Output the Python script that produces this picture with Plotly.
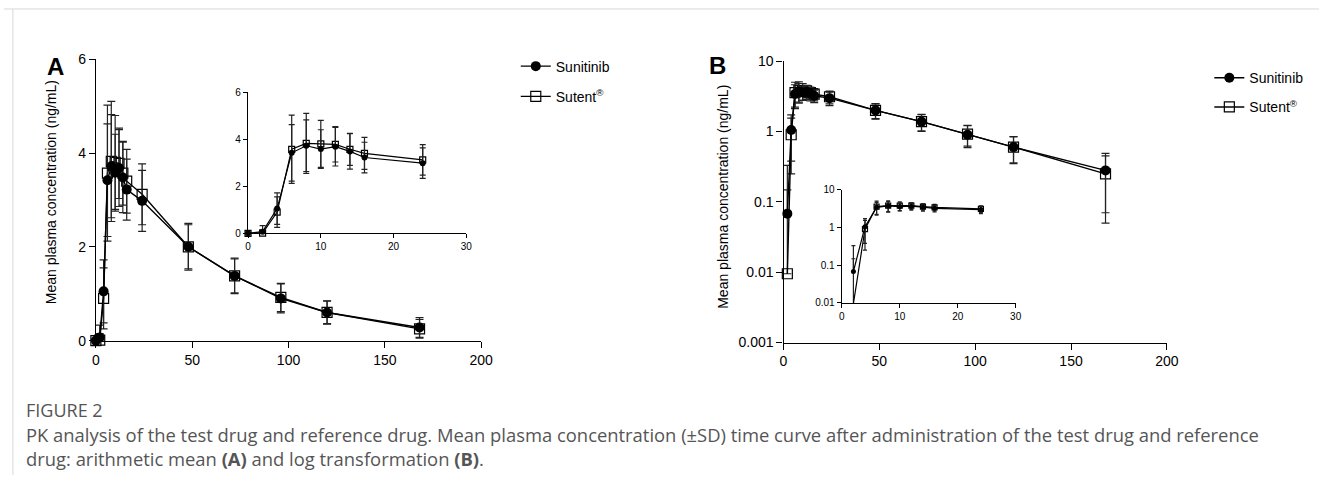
import plotly.graph_objects as go

# ---------------- data ----------------
time_h = [0, 2, 4, 6, 8, 10, 12, 14, 16, 24, 48, 72, 96, 120, 168]
sunitinib_mean = [0, 0.068, 1.05, 3.42, 3.72, 3.58, 3.68, 3.48, 3.22, 2.98, 2.00, 1.38, 0.90, 0.60, 0.28]
sunitinib_sd = [0, 0.08, 0.67, 1.20, 1.10, 0.82, 0.82, 0.75, 0.65, 0.65, 0.47, 0.36, 0.31, 0.24, 0.21]
sutent_mean = [0, 0.0095, 0.90, 3.57, 3.82, 3.80, 3.78, 3.57, 3.40, 3.12, 2.00, 1.38, 0.92, 0.60, 0.25]
sutent_sd = [0, 0.32, 0.65, 1.45, 1.28, 1.00, 0.75, 0.68, 0.68, 0.65, 0.50, 0.38, 0.30, 0.25, 0.20]

lin_x_ticks = [0, 50, 100, 150, 200]
lin_y_ticks = [0, 2, 4, 6]
inset_x_ticks = [0, 10, 20, 30]
log_y_ticks = [0.001, 0.01, 0.1, 1, 10]
log_y_labels = ["0.001", "0.01", "0.1", "1", "10"]
inset_log_ticks = [0.01, 0.1, 1, 10]
inset_log_labels = ["0.01", "0.1", "1", "10"]

y_title = "Mean plasma concentration (ng/mL)"
caption_head = "FIGURE 2"
caption_body = ("PK analysis of the test drug and reference drug. Mean plasma concentration (±SD) "
                "time curve after administration of the test drug and reference<br>"
                "drug: arithmetic mean <b>(A)</b> and log transformation <b>(B)</b>.")

W, H = 1331, 483


def px(x):
    return x / W


def py(y):
    return 1 - y / H


fig = go.Figure()


def add_pair(idx, xa, ya, msize, cap, lw, show, legend, log=False):
    t = [time_h[i] for i in idx]
    specs = [
        ("Sutent<sup>®</sup>", sutent_mean, sutent_sd,
         dict(symbol="square-open", size=msize, color="black", line=dict(width=1.2, color="black")), 2),
        ("Sunitinib", sunitinib_mean, sunitinib_sd,
         dict(symbol="circle", size=msize, color="black"), 1),
    ]
    for name, mean, sd, marker, rank in specs:
        m = [mean[i] for i in idx]
        s = [sd[i] for i in idx]
        if log:
            sm = [v if mv - v > 0 else 0 for mv, v in zip(m, s)]
        else:
            sm = s
        fig.add_trace(go.Scatter(
            x=t, y=m,
            error_y=dict(type="data", symmetric=False, array=s, arrayminus=sm, visible=True,
                         color="#222", thickness=1.2, width=cap),
            mode="lines+markers", name=name, marker=marker,
            line=dict(color="black", width=lw),
            xaxis=xa, yaxis=ya, cliponaxis=False,
            showlegend=show, legend=legend, legendrank=rank,
            legendgroup=name + legend,
        ))


all_idx = list(range(len(time_h)))
early_idx = [i for i, t in enumerate(time_h) if t <= 24]
pos_idx = [i for i, t in enumerate(time_h) if t > 0]
pos_early_idx = [i for i, t in enumerate(time_h) if 0 < t <= 24]

add_pair(all_idx, "x", "y", 10, 4, 1.4, True, "legend")
add_pair(early_idx, "x2", "y2", 6, 3, 1.2, False, "legend")
add_pair(pos_idx, "x3", "y3", 10, 4, 1.4, True, "legend2", log=True)
add_pair(pos_early_idx, "x4", "y4", 5, 2, 1.2, False, "legend2", log=True)

axis_common = dict(showline=True, linecolor="black", linewidth=1.3, ticks="outside",
                   tickcolor="black", tickwidth=1.3, showgrid=False, zeroline=False,
                   color="black")
main_font = dict(family="Liberation Sans, Arial", size=14, color="black")
inset_font = dict(family="Liberation Sans, Arial", size=10, color="black")

fig.update_layout(
    width=W, height=H,
    margin=dict(l=0, r=0, t=0, b=0),
    paper_bgcolor="white", plot_bgcolor="rgba(0,0,0,0)",
    font=dict(family="Liberation Sans, Arial", color="black"),
    xaxis=dict(domain=[px(93), px(483)], range=[0, 200], tickvals=lin_x_ticks,
               anchor="y", ticklen=6, tickfont=main_font, **axis_common),
    yaxis=dict(domain=[py(344), py(53)], range=[0, 6], tickvals=lin_y_ticks,
               anchor="x", ticklen=6, tickfont=main_font, **axis_common),
    xaxis2=dict(domain=[px(247), px(468)], range=[0, 30], tickvals=inset_x_ticks,
                anchor="y2", ticklen=4, tickfont=inset_font, **axis_common),
    yaxis2=dict(domain=[py(233), py(87)], range=[0, 6], tickvals=lin_y_ticks,
                anchor="x2", ticklen=4, tickfont=inset_font, **axis_common),
    xaxis3=dict(domain=[px(789), px(1177)], range=[0, 200], tickvals=lin_x_ticks,
                anchor="y3", ticklen=6, tickfont=main_font, **axis_common),
    yaxis3=dict(domain=[py(346), py(55)], type="log", range=[-3, 1], tickvals=log_y_ticks,
                ticktext=log_y_labels, anchor="x3", ticklen=6, tickfont=main_font,
                **axis_common),
    xaxis4=dict(domain=[px(848), px(1024)], range=[0, 30], tickvals=inset_x_ticks,
                anchor="y4", ticklen=4, tickfont=inset_font, **axis_common),
    yaxis4=dict(domain=[py(305), py(188)], type="log", range=[-2, 1], tickvals=inset_log_ticks,
                ticktext=inset_log_labels, anchor="x4", ticklen=4, tickfont=inset_font,
                **axis_common),
    legend=dict(x=px(518), y=py(44), xanchor="left", yanchor="top",
                font=dict(family="Liberation Sans, Arial", size=14, color="black"),
                bgcolor="rgba(0,0,0,0)", itemwidth=30, tracegroupgap=9),
    legend2=dict(x=px(1220), y=py(56), xanchor="left", yanchor="top",
                 font=dict(family="Liberation Sans, Arial", size=14, color="black"),
                 bgcolor="rgba(0,0,0,0)", itemwidth=30, tracegroupgap=8),
    showlegend=True,
)

ann = [
    dict(text="<b>A</b>", x=px(52), y=py(60), font=dict(size=24, family="Liberation Sans, Arial", color="black")),
    dict(text="<b>B</b>", x=px(722), y=py(59), font=dict(size=24, family="Liberation Sans, Arial", color="black")),
    dict(text=y_title, x=px(47), y=py(190), textangle=-90, font=main_font),
    dict(text=y_title, x=px(727), y=py(195), textangle=-90, font=main_font),
]
for a in ann:
    fig.add_annotation(xref="paper", yref="paper", showarrow=False,
                       xanchor="center", yanchor="middle", **a)

fig.add_annotation(xref="paper", yref="paper", x=px(20), y=py(416), xanchor="left",
                   yanchor="middle", text=caption_head, showarrow=False,
                   font=dict(family="Open Sans", size=18, color="#555"))
fig.add_annotation(xref="paper", yref="paper", x=px(20), y=py(454), xanchor="left",
                   yanchor="middle", align="left", text=caption_body, showarrow=False,
                   font=dict(family="Open Sans", size=18.4, color="#555"))

fig.add_shape(type="line", xref="paper", yref="paper", x0=0, x1=1, y0=py(1), y1=py(1),
              line=dict(color="#d8d8d8", width=1))
fig.add_shape(type="line", xref="paper", yref="paper", x0=px(9), x1=px(9), y0=0, y1=py(1),
              line=dict(color="#d8d8d8", width=1))

fig.write_html("out.html", config={"displayModeBar": False},
               post_script="document.body.style.margin='0';")
